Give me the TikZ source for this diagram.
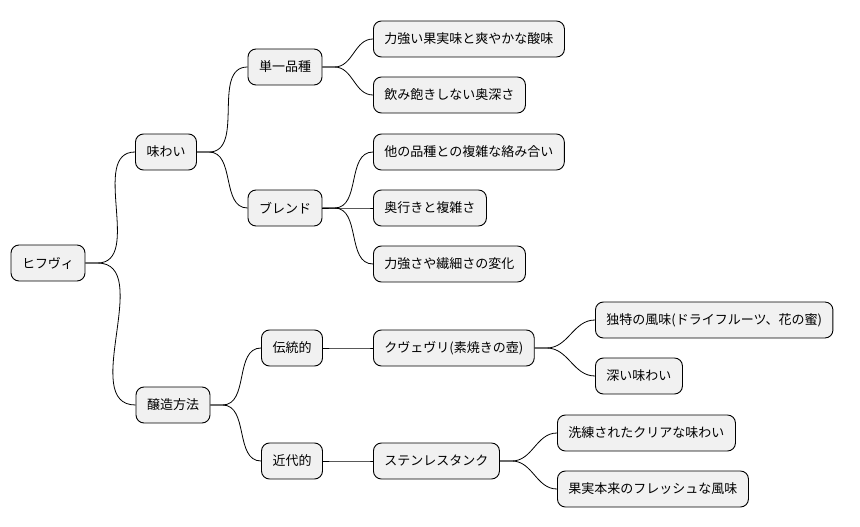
\documentclass[tikz,border=0pt]{standalone}
\usepackage{fontspec}
\setmainfont{Noto Sans CJK JP}
\begin{document}
\begin{tikzpicture}[x=1pt,y=-1pt,
 box/.style={draw=black,line width=0.9pt,fill={rgb,255:red,241;green,241;blue,241},rounded corners=8pt,minimum height=36pt,inner xsep=11pt,font=\fontsize{13}{15}\selectfont},
 con/.style={line width=0.8pt}]
\useasboundingbox (0,0) rectangle (860,527);
\node[box] (r) at (48,263) {ヒフヴィ};
\node[box] (a) at (166,152) {味わい};
\node[box] (b) at (173,405) {醸造方法};
\node[box] (a1) at (285,67) {単一品種};
\node[box] (a2) at (285,208) {ブレンド};
\node[box] (b1) at (292,348) {伝統的};
\node[box] (b2) at (292,461) {近代的};
\node[box,anchor=west] (c1) at (373,39) {力強い果実味と爽やかな酸味};
\node[box,anchor=west] (c2) at (373,95) {飲み飽きしない奥深さ};
\node[box,anchor=west] (c3) at (373,152) {他の品種との複雑な絡み合い};
\node[box,anchor=west] (c4) at (373,208) {奥行きと複雑さ};
\node[box,anchor=west] (c5) at (373,264) {力強さや繊細さの変化};
\node[box,anchor=west] (d1) at (373,348) {クヴェヴリ(素焼きの壺)};
\node[box,anchor=west] (d2) at (373,461) {ステンレスタンク};
\node[box,anchor=west] (e1) at (595,320) {独特の風味(ドライフルーツ、花の蜜)};
\node[box,anchor=west] (e2) at (595,376) {深い味わい};
\node[box,anchor=west] (f1) at (557,433) {洗練されたクリアな味わい};
\node[box,anchor=west] (f2) at (557,489) {果実本来のフレッシュな風味};
\foreach \p/\c in {r/a,r/b,a/a1,a/a2,b/b1,b/b2,a1/c1,a1/c2,a2/c3,a2/c4,a2/c5,b1/d1,b2/d2,d1/e1,d1/e2,d2/f1,d2/f2}
 \draw[con] (\p.east) -- ++(12,0) to[out=0,in=180] (\c.west);
\end{tikzpicture}
\end{document}
